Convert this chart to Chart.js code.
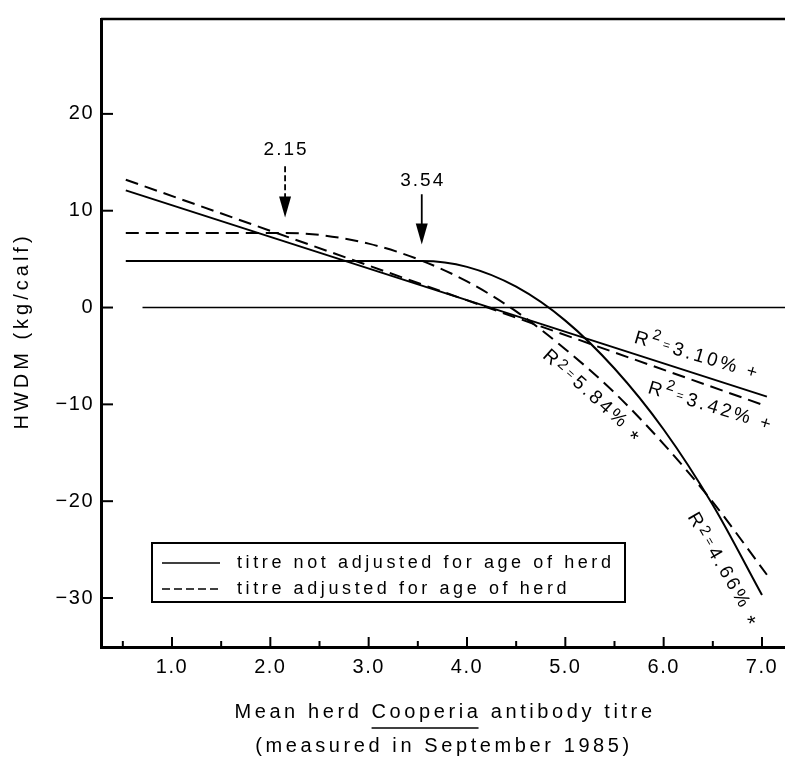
<!DOCTYPE html>
<html>
<head>
<meta charset="utf-8">
<script src="https://cdn.jsdelivr.net/npm/chart.js@4.4.1/dist/chart.umd.min.js"></script>
<style>
  html, body { margin: 0; padding: 0; background: #fff; }
  canvas { display: block; }
</style>
</head>
<body>
<canvas id="herdChart" width="785" height="758"></canvas>
<script>
// values
const linearX = [0.53, 7.05];
const linearNotAdjusted = [12.1, -9.2];
const linearAdjusted = [13.2, -10.2];

const brokenNotAdjustedX = [0.53, 3.54, 4.0, 4.5, 5.0, 5.5, 6.0, 6.5, 7.0];
const brokenNotAdjusted = [4.8, 4.8, 4.2, 2.15, -1.35, -6.3, -12.6, -20.4, -29.7];

const brokenAdjustedX = [0.53, 2.15, 2.5, 3.0, 3.5, 4.0, 4.5, 5.0, 5.5, 6.0, 6.5, 7.05];
const brokenAdjusted = [7.7, 7.7, 7.5, 6.6, 5.0, 2.7, -0.4, -4.3, -8.8, -14.1, -20.1, -27.6];

const zeroLineX = [0.7, 7.25];
const zeroLineY = [0, 0];

const breakpoints = [2.15, 3.54];
const breakpointLabels = ['2.15', '3.54'];

const fitValues = ['3.10%', '3.42%', '5.84%', '4.66%'];
const fitMarks = ['+', '+', '*', '*'];

const xTicks = [1, 2, 3, 4, 5, 6, 7];
const xMinorTicks = [0.5, 1.5, 2.5, 3.5, 4.5, 5.5, 6.5];
const xTickLabels = ['1.0', '2.0', '3.0', '4.0', '5.0', '6.0', '7.0'];
const yTicks = [-30, -20, -10, 0, 10, 20];
const yTickLabels = ['\u221230', '\u221220', '\u221210', '0', '10', '20'];

const legendLabels = ['titre not adjusted for age of herd', 'titre adjusted for age of herd'];
const xTitle = ['Mean herd ', 'Cooperia', ' antibody titre'];
const xSubTitle = '(measured in September 1985)';
const yTitle = 'HWDM (kg/calf)';

const FONT = "'Liberation Sans', Arial, Helvetica, sans-serif";
const DASH = [13, 7];

function toPoints(xs, ys) {
    return xs.map((v, i) => ({ x: v, y: ys[i] }));
}

// where the annotations sit (data units), kept apart from the values
const arrowLayout = [
    { labelY: 16.3, topY: 14.6, tipY: 9.3, dashed: true },
    { labelY: 13.1, topY: 11.7, tipY: 6.5, dashed: false }
];
const fitLabelLayout = [
    { x: 5.69, y: -3.6, angle: 16.5, supDy: -9 },
    { x: 5.83, y: -8.8, angle: 17, supDy: -9 },
    { x: 4.76, y: -5.1, angle: 42, supDy: -4 },
    { x: 6.24, y: -21.6, angle: 60, supDy: -4 }
];

function strokeLine(ctx, x1, y1, x2, y2) {
    ctx.beginPath();
    ctx.moveTo(x1, y1);
    ctx.lineTo(x2, y2);
    ctx.stroke();
}

function drawFitLabel(ctx, px, py, angle, value, mark, supDy) {
    ctx.save();
    ctx.translate(px, py);
    ctx.rotate(angle * Math.PI / 180);
    ctx.textAlign = 'left';
    ctx.textBaseline = 'alphabetic';
    ctx.letterSpacing = '3px';
    const parts = [
        ['R', 19, 0, 0],
        ['2', 15, supDy, 0],
        ['=', 12, -3, 1],
        [value, 19, 0, 1],
        [mark, mark === '*' ? 22 : 18, mark === '*' ? 7 : 0, 8]
    ];
    let cx = 0;
    parts.forEach(([text, size, dy, gap]) => {
        ctx.font = size + 'px ' + FONT;
        cx += gap;
        ctx.fillText(text, cx, dy);
        cx += ctx.measureText(text).width;
    });
    ctx.restore();
}

const figureDecor = {
    id: 'figureDecor',
    beforeDraw(chart) {
        const ctx = chart.ctx;
        ctx.save();
        ctx.fillStyle = '#fff';
        ctx.fillRect(0, 0, chart.width, chart.height);
        ctx.restore();
        // tick labels in the figure are set wide
        ctx.letterSpacing = '1.5px';
    },
    afterDraw(chart) {
        const { ctx, chartArea: area, scales: { x, y } } = chart;
        ctx.save();
        ctx.fillStyle = '#000';
        ctx.strokeStyle = '#000';

        // top of the frame
        ctx.lineWidth = 2.5;
        strokeLine(ctx, area.left, area.top, area.right, area.top);

        // tick marks point into the plot
        ctx.lineWidth = 2;
        xTicks.forEach(v => {
            const px = x.getPixelForValue(v);
            strokeLine(ctx, px, area.bottom, px, area.bottom - 10);
        });
        xMinorTicks.forEach(v => {
            const px = x.getPixelForValue(v);
            strokeLine(ctx, px, area.bottom, px, area.bottom - 6);
        });
        yTicks.forEach(v => {
            const py = y.getPixelForValue(v);
            strokeLine(ctx, area.left, py, area.left + 12, py);
        });

        // breakpoint arrows
        breakpoints.forEach((bp, i) => {
            const lay = arrowLayout[i];
            const px = x.getPixelForValue(bp);
            const tip = y.getPixelForValue(lay.tipY);
            ctx.font = '19px ' + FONT;
            ctx.letterSpacing = '2px';
            ctx.textAlign = 'center';
            ctx.textBaseline = 'middle';
            ctx.fillText(breakpointLabels[i], px + 1, y.getPixelForValue(lay.labelY));
            ctx.lineWidth = 1.8;
            ctx.setLineDash(lay.dashed ? [6, 3] : []);
            strokeLine(ctx, px, y.getPixelForValue(lay.topY), px, tip - 18);
            ctx.setLineDash([]);
            ctx.beginPath();
            ctx.moveTo(px - 6, tip - 21);
            ctx.lineTo(px + 6, tip - 21);
            ctx.lineTo(px, tip);
            ctx.closePath();
            ctx.fill();
        });

        // R squared labels along the fitted lines
        fitValues.forEach((val, i) => {
            const lay = fitLabelLayout[i];
            drawFitLabel(ctx, x.getPixelForValue(lay.x), y.getPixelForValue(lay.y),
                lay.angle, val, fitMarks[i], lay.supDy);
        });

        // legend box
        ctx.letterSpacing = '3.6px';
        ctx.lineWidth = 2;
        ctx.strokeRect(152, 543, 473, 59);
        ctx.lineWidth = 1.6;
        strokeLine(ctx, 162, 563, 220, 563);
        ctx.setLineDash([8, 4]);
        strokeLine(ctx, 162, 589, 222, 589);
        ctx.setLineDash([]);
        ctx.font = '18px ' + FONT;
        ctx.textAlign = 'left';
        ctx.textBaseline = 'middle';
        ctx.fillText(legendLabels[0], 237, 563);
        ctx.fillText(legendLabels[1], 237, 589);

        // x axis title, with the genus underlined
        ctx.font = '20px ' + FONT;
        ctx.letterSpacing = '3.6px';
        ctx.textBaseline = 'alphabetic';
        const mid = (area.left + area.right) / 2;
        const widths = xTitle.map(t => ctx.measureText(t).width);
        const full = widths.reduce((a, b) => a + b, 0);
        let tx = mid - full / 2 + 2;
        xTitle.forEach((t, i) => {
            ctx.fillText(t, tx, 718);
            if (i === 1) {
                ctx.lineWidth = 1.6;
                strokeLine(ctx, tx, 728, tx + widths[i] - 3, 728);
            }
            tx += widths[i];
        });
        const subW = ctx.measureText(xSubTitle).width;
        ctx.fillText(xSubTitle, mid - subW / 2 + 1, 752);

        // y axis title
        ctx.save();
        ctx.translate(28, 331);
        ctx.rotate(-Math.PI / 2);
        ctx.textAlign = 'center';
        ctx.letterSpacing = '4px';
        ctx.fillText(yTitle, 0, 0);
        ctx.restore();

        ctx.restore();
    }
};

const ctx = document.getElementById('herdChart').getContext('2d');

const lineStyle = {
    borderColor: '#000',
    borderWidth: 2,
    pointRadius: 0,
    fill: false
};

new Chart(ctx, {
    type: 'line',
    data: {
        datasets: [
            { ...lineStyle, label: 'zero', data: toPoints(zeroLineX, zeroLineY), borderWidth: 1.5 },
            { ...lineStyle, label: legendLabels[0], data: toPoints(linearX, linearNotAdjusted) },
            { ...lineStyle, label: legendLabels[1], data: toPoints(linearX, linearAdjusted), borderDash: DASH },
            { ...lineStyle, label: legendLabels[0] + ' (broken)', data: toPoints(brokenNotAdjustedX, brokenNotAdjusted),
              cubicInterpolationMode: 'monotone' },
            { ...lineStyle, label: legendLabels[1] + ' (broken)', data: toPoints(brokenAdjustedX, brokenAdjusted),
              cubicInterpolationMode: 'monotone', borderDash: DASH }
        ]
    },
    options: {
        responsive: false,
        animation: false,
        devicePixelRatio: 1,
        layout: { padding: { top: 6, right: 0, bottom: 0, left: 0 } },
        plugins: {
            legend: { display: false },
            tooltip: { enabled: false }
        },
        scales: {
            x: {
                type: 'linear',
                min: 0.278,
                max: 7.234,
                grid: { display: false, drawTicks: false },
                border: { display: true, color: '#000', width: 3 },
                afterBuildTicks: scale => { scale.ticks = xTicks.map(v => ({ value: v })); },
                afterFit: scale => { scale.height = 111; },
                ticks: {
                    color: '#000',
                    font: { family: FONT, size: 20 },
                    padding: 8,
                    maxRotation: 0,
                    autoSkip: false,
                    callback: (value) => xTickLabels[xTicks.indexOf(value)]
                }
            },
            y: {
                type: 'linear',
                min: -35.06,
                max: 29.8,
                grid: { display: false, drawTicks: false },
                border: { display: true, color: '#000', width: 3 },
                afterBuildTicks: scale => { scale.ticks = yTicks.map(v => ({ value: v })); },
                afterFit: scale => { scale.width = 101; },
                ticks: {
                    color: '#000',
                    font: { family: FONT, size: 20 },
                    padding: 7,
                    autoSkip: false,
                    callback: (value) => yTickLabels[yTicks.indexOf(value)]
                }
            }
        }
    },
    plugins: [figureDecor]
});
</script>
</body>
</html>
